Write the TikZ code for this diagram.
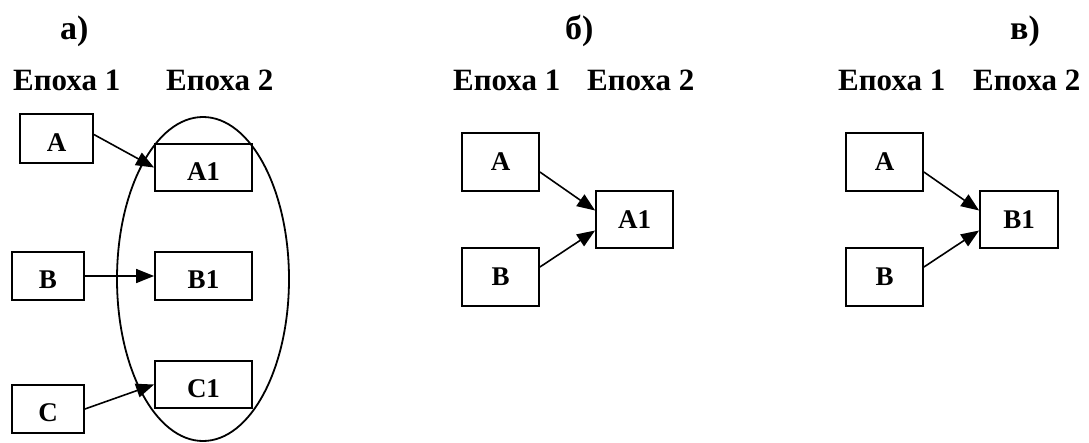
\documentclass[tikz,border=0pt]{standalone}
\usepackage{fontspec}
\setmainfont{Liberation Serif}
\usetikzlibrary{arrows.meta,calc,shapes.geometric}
\begin{document}
\begin{tikzpicture}[x=1pt,y=-1pt,
  boxa/.style={draw,line width=1.8pt,inner sep=0pt,font=\fontsize{27}{30}\selectfont\bfseries,text height=26pt},
  boxb/.style={draw,line width=1.8pt,inner sep=0pt,minimum width=77pt,minimum height=58pt,font=\fontsize{27}{30}\selectfont\bfseries},
  head/.style={anchor=base west,inner sep=0pt,font=\fontsize{31}{34}\selectfont\bfseries},
  ttl/.style={anchor=base west,inner sep=0pt,font=\fontsize{34}{36}\selectfont\bfseries},
  conn/.style={line width=1.6pt,-{Triangle[length=18pt,width=14pt]}}]
\useasboundingbox (0,0) rectangle (1089,442);
% titles
\node[ttl] (ta) at (60,39) {а)};
\node[ttl] (tb) at (565,39) {б)};
\node[ttl] (tc) at (1010,39) {в)};
% epoch labels
\node[head] (ea1) at (13,90) {Епоха 1};
\node[head] (ea2) at (166,90) {Епоха 2};
\node[head] (eb1) at (453,90) {Епоха 1};
\node[head] (eb2) at (587,90) {Епоха 2};
\node[head] (ec1) at (838,90) {Епоха 1};
\node[head] (ec2) at (973,90) {Епоха 2};
% panel a
\node[draw,line width=1.8pt,ellipse,minimum width=172pt,minimum height=324pt,inner sep=0pt] (ell) at (203,279) {};
\node[boxa,minimum width=73pt,minimum height=49pt] (aA) at (56.5,138.5) {A};
\node[boxa,minimum width=97pt,minimum height=47pt] (aA1) at (203.5,167.5) {A1};
\node[boxa,minimum width=72pt,minimum height=48pt] (aB) at (48,276) {B};
\node[boxa,minimum width=97pt,minimum height=48pt] (aB1) at (203.5,276) {B1};
\node[boxa,minimum width=72pt,minimum height=48pt] (aC) at (48,409) {C};
\node[boxa,minimum width=97pt,minimum height=47pt] (aC1) at (203.5,384.5) {C1};
\draw[conn] ($(aA.east)+(0,-4)$) -- (aA1.west);
\draw[conn] (aB.east) -- (aB1.west);
\draw[conn] (aC.east) -- (aC1.west);
% panel b
\node[boxb] (bA) at (500.5,162) {A};
\node[boxb,minimum height=57pt] (bA1) at (634.5,219.5) {A1};
\node[boxb] (bB) at (500.5,277) {B};
\draw[conn] ($(bA.east)+(0,10)$) -- ($(bA1.west)+(0,-9)$);
\draw[conn] ($(bB.east)+(0,-10)$) -- ($(bA1.west)+(0,11)$);
% panel c
\node[boxb] (cA) at (884.5,162) {A};
\node[boxb,minimum width=78pt,minimum height=57pt] (cB1) at (1019,219.5) {B1};
\node[boxb] (cB) at (884.5,277) {B};
\draw[conn] ($(cA.east)+(0,10)$) -- ($(cB1.west)+(0,-9)$);
\draw[conn] ($(cB.east)+(0,-10)$) -- ($(cB1.west)+(0,11)$);
\end{tikzpicture}
\end{document}
